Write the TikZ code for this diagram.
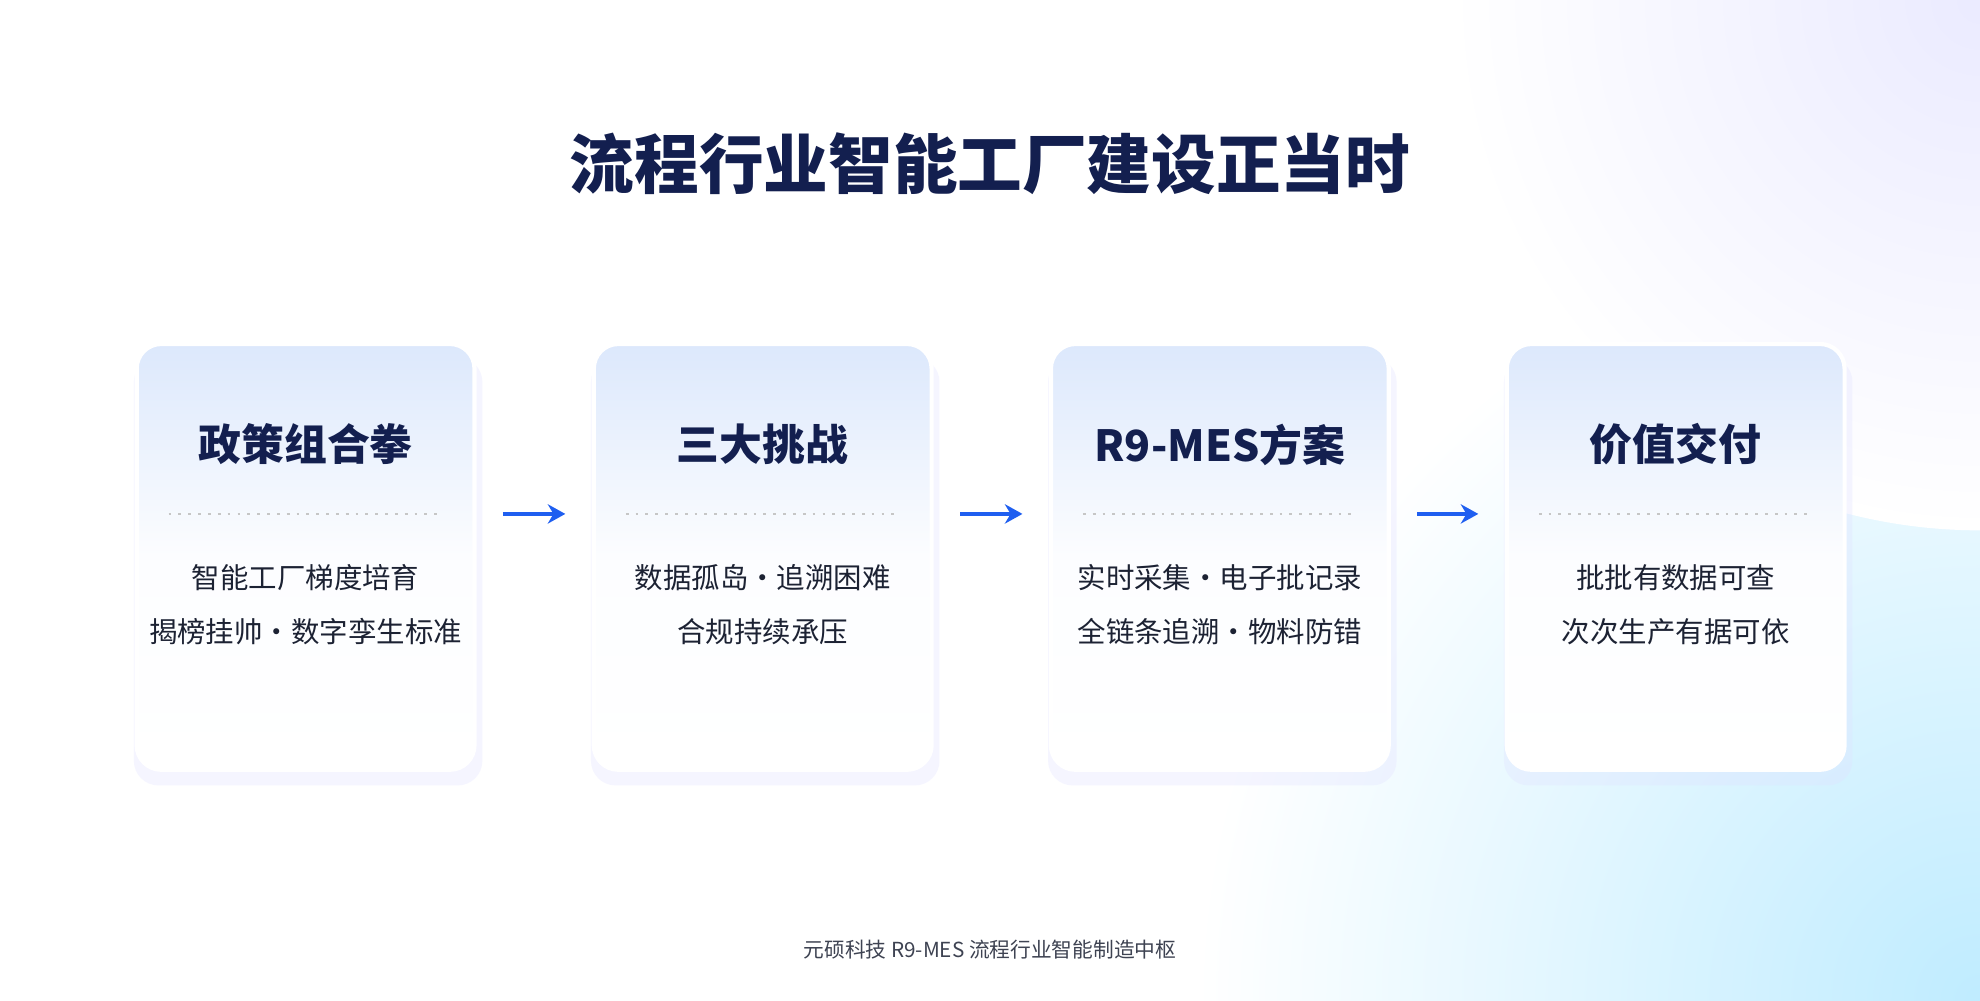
\documentclass[tikz,border=0pt]{standalone}
\usepackage{fontspec}
\setmainfont{Noto Sans CJK SC}
\usetikzlibrary{positioning,calc,arrows.meta}

\definecolor{navy}{HTML}{131F4F}
\definecolor{arrowblue}{HTML}{1F5FF0}
\definecolor{cardtop}{HTML}{DCE8FC}
\definecolor{bodytext}{HTML}{1C2233}

\tikzset{
  card/.style={rounded corners=7pt, minimum width=3.38cm, minimum height=4.26cm, draw=white, line width=1.2pt,
               top color=cardtop, bottom color=white, middle color=white!92!cardtop, inner sep=0pt},
  head/.style={font=\bfseries\fontsize{12.2}{14}\selectfont, text=navy},
  body/.style={font=\fontsize{8.1}{15.5}\selectfont, text=bodytext, align=center},
  flow/.style={-{Stealth[length=5pt,width=5.5pt]}, arrowblue, line width=1.3pt}
}

\begin{document}
\begin{tikzpicture}[x=0.012628cm, y=-0.012628cm]
  % background
  \useasboundingbox (0,0) rectangle (1568,792);
  \fill[white] (0,0) rectangle (1568,792);
  \begin{scope}
    \clip (0,0) rectangle (1568,792);
    \shade[inner color=blue!30!cyan!25, outer color=white] (1568,792) circle (620);
    \shade[inner color=blue!8, outer color=white] (1568,0) circle (420);
  \end{scope}

  \node[font=\bfseries\fontsize{18.4}{22}\selectfont, text=navy] (title) at (784,130) {流程行业智能工厂建设正当时};

  % cards
  \foreach \i/\x/\hd/\la/\lb in {1/242/政策组合拳/智能工厂梯度培育/揭榜挂帅·数字孪生标准,
                                 2/604/三大挑战/数据孤岛·追溯困难/合规持续承压,
                                 3/966/R9-MES方案/实时采集·电子批记录/全链条追溯·物料防错,
                                 4/1327/价值交付/批批有数据可查/次次生产有据可依}{
    \fill[blue!12, opacity=0.3, rounded corners=7pt] (\x-136,283) rectangle (\x+140,622);
    \node[card] (c\i) at (\x,441) {};
    \node[head] (h\i) at (\x,352) {\hd};
    \draw[gray!45, dotted, line width=0.8pt] ($(c\i.west)+(27,-34)$) -- ($(c\i.east)+(-27,-34)$);
    \node[body] (b\i) at (\x,479) {\la\\\lb};
  }

  % arrows
  \foreach \i/\j in {1/2, 2/3, 3/4}
    \draw[flow, shorten <=7.5pt, shorten >=7.5pt] ($(c\i.east)+(0,-34)$) -- ($(c\j.west)+(0,-34)$);

  \node[font=\fontsize{5.9}{7}\selectfont, text=bodytext!85] (foot) at (784,752) {元硕科技 R9-MES 流程行业智能制造中枢};
\end{tikzpicture}
\end{document}
